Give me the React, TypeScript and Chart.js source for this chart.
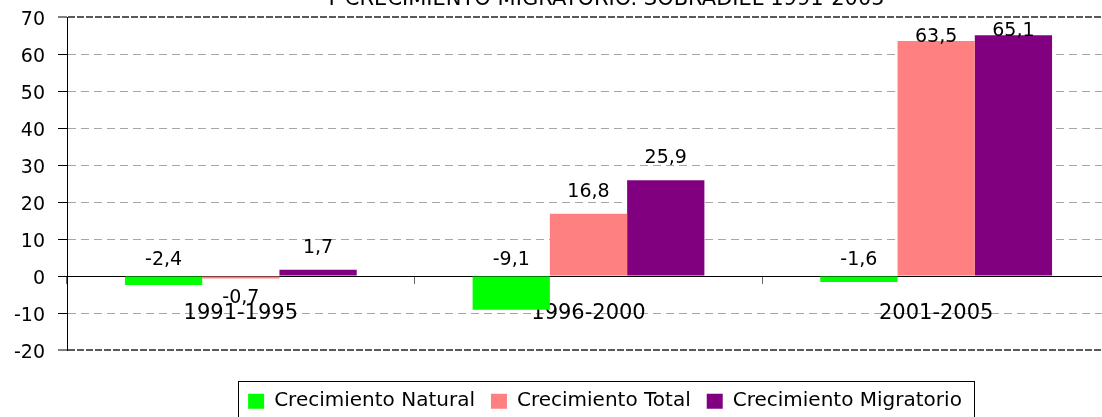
import React, { useEffect, useRef } from "react";
import { Chart, registerables } from "chart.js";

Chart.register(...registerables);

// ---- data ----
const categories = ["1991-1995", "1996-2000", "2001-2005"];
const seriesNames = ["Crecimiento Natural", "Crecimiento Total", "Crecimiento Migratorio"];
const crecimientoNatural = [-2.4, -9.1, -1.6];
const crecimientoTotal = [-0.7, 16.8, 63.5];
const crecimientoMigratorio = [1.7, 25.9, 65.1];
const yMin = -20;
const yMax = 70;
const yStep = 10;
const titleText = "Y CRECIMIENTO MIGRATORIO. SOBRADIEL 1991-2005";

// ---- styles ----
const seriesColors = ["#00FF00", "#FF8080", "#800080"];
const negativeLabelAtBase = [true, false, false];
const FONT = "DejaVu Sans";
const CANVAS_W = 1210;
const CANVAS_H = 430;

const fmt = (v: number) => v.toFixed(1).replace(".", ",");

const titlePlugin = {
  id: "cutTitle",
  afterDraw(chart: any) {
    const ctx = chart.ctx;
    ctx.save();
    ctx.font = `21px "${FONT}"`;
    ctx.fillStyle = "#000";
    ctx.textAlign = "center";
    ctx.textBaseline = "alphabetic";
    ctx.fillText(titleText, chart.width / 2, 5);
    ctx.restore();
  },
};

const valueLabelPlugin = {
  id: "valueLabels",
  afterDatasetsDraw(chart: any) {
    const ctx = chart.ctx;
    const top = chart.chartArea.top;
    ctx.save();
    ctx.font = `19px "${FONT}"`;
    ctx.fillStyle = "#000";
    ctx.textAlign = "center";
    ctx.textBaseline = "alphabetic";
    chart.data.datasets.forEach((ds: any, i: number) => {
      const meta = chart.getDatasetMeta(i);
      meta.data.forEach((bar: any, j: number) => {
        const v = ds.data[j] as number;
        const { x, y, base } = bar.getProps(["x", "y", "base"], true);
        let baseline: number;
        if (v >= 0) {
          baseline = y - 17;
          if (baseline - 14 < top) baseline = y + 1;
        } else if (negativeLabelAtBase[i]) {
          baseline = base - 12;
        } else {
          baseline = y + 24;
        }
        ctx.fillText(fmt(v), x, baseline);
      });
    });
    ctx.restore();
  },
};

const legendBorderPlugin = {
  id: "legendBorder",
  afterDraw(chart: any) {
    const lg = chart.legend;
    if (!lg || !lg.legendHitBoxes || !lg.legendHitBoxes.length) return;
    const hb = lg.legendHitBoxes;
    const last = hb[hb.length - 1];
    const left = Math.round(hb[0].left - 10) + 0.5;
    const right = Math.round(last.left + last.width + 12) + 0.5;
    const top = Math.round(hb[0].top - 10) + 0.5;
    const ctx = chart.ctx;
    ctx.save();
    ctx.strokeStyle = "#000";
    ctx.lineWidth = 1;
    ctx.strokeRect(left, top, right - left, 70);
    ctx.restore();
  },
};

export default function App() {
  const ref = useRef<HTMLCanvasElement>(null);

  useEffect(() => {
    if (!ref.current) return;
    Chart.defaults.font.family = FONT;
    Chart.defaults.color = "#000";
    const isEdge = (c: any) => c.tick && (c.tick.value === yMax || c.tick.value === yMin);
    const chart = new Chart(ref.current, {
      type: "bar",
      data: {
        labels: categories,
        datasets: [
          { label: seriesNames[0], data: crecimientoNatural, backgroundColor: seriesColors[0] },
          { label: seriesNames[1], data: crecimientoTotal, backgroundColor: seriesColors[1] },
          { label: seriesNames[2], data: crecimientoMigratorio, backgroundColor: seriesColors[2] },
        ],
      },
      options: {
        responsive: false,
        animation: false,
        devicePixelRatio: 1,
        layout: { padding: { top: 17, right: 0, bottom: 8.8, left: 0 } },
        datasets: { bar: { categoryPercentage: 2 / 3, barPercentage: 1, borderWidth: 0 } },
        scales: {
          x: {
            type: "category",
            position: { y: 0 } as any,
            offset: true,
            grid: {
              display: true,
              drawOnChartArea: false,
              drawTicks: true,
              offset: true,
              tickLength: 7,
              tickColor: "#666",
              tickWidth: 1,
            },
            border: { display: true, color: "#000", width: 1 },
            ticks: {
              font: { family: FONT, size: 21 },
              color: "#000",
              padding: 18,
              maxRotation: 0,
              autoSkip: false,
            },
          },
          y: {
            type: "linear",
            position: "left",
            min: yMin,
            max: yMax,
            afterFit: (s: any) => {
              s.width = 67;
              s.paddingTop = 0;
              s.paddingBottom = 0;
            },
            ticks: {
              stepSize: yStep,
              font: { family: FONT, size: 19 },
              color: "#000",
              padding: 13,
              labelOffset: 3,
            },
            grid: {
              color: (c: any) =>
                c.tick && c.tick.value === 0 ? "rgba(0,0,0,0)" : isEdge(c) ? "#5a5a5a" : "#a6a6a6",
              lineWidth: (c: any) => (isEdge(c) ? 2 : 1),
              tickLength: 9,
              tickColor: "#000",
              tickWidth: 1,
            },
            border: {
              display: true,
              color: "#000",
              width: 1,
              dash: (c: any) => (c.type === "tick" ? (isEdge(c) ? [7, 2] : [8, 5]) : []),
            } as any,
          },
          rightSpace: {
            type: "linear",
            position: "right",
            display: true,
            min: yMin,
            max: yMax,
            afterFit: (s: any) => {
              s.width = 100;
              s.paddingTop = 0;
              s.paddingBottom = 0;
            },
            grid: { display: false, drawTicks: false },
            ticks: { display: false },
            border: { display: false },
          },
        },
        plugins: {
          legend: {
            display: true,
            position: "bottom",
            labels: {
              font: { family: FONT, size: 20 },
              color: "#000",
              boxWidth: 16,
              boxHeight: 15,
              padding: 16,
            },
            title: { display: true, text: "", padding: { top: 24, bottom: 0 }, font: { size: 1 } },
          },
          title: { display: false },
          tooltip: { enabled: false },
        },
      },
      plugins: [titlePlugin, valueLabelPlugin, legendBorderPlugin],
    });
    return () => chart.destroy();
  }, []);

  return (
    <div
      style={{
        position: "fixed",
        left: 0,
        top: 0,
        width: 1102,
        height: 417,
        overflow: "hidden",
        background: "#fff",
      }}
    >
      <canvas ref={ref} width={CANVAS_W} height={CANVAS_H} style={{ display: "block" }} />
    </div>
  );
}
